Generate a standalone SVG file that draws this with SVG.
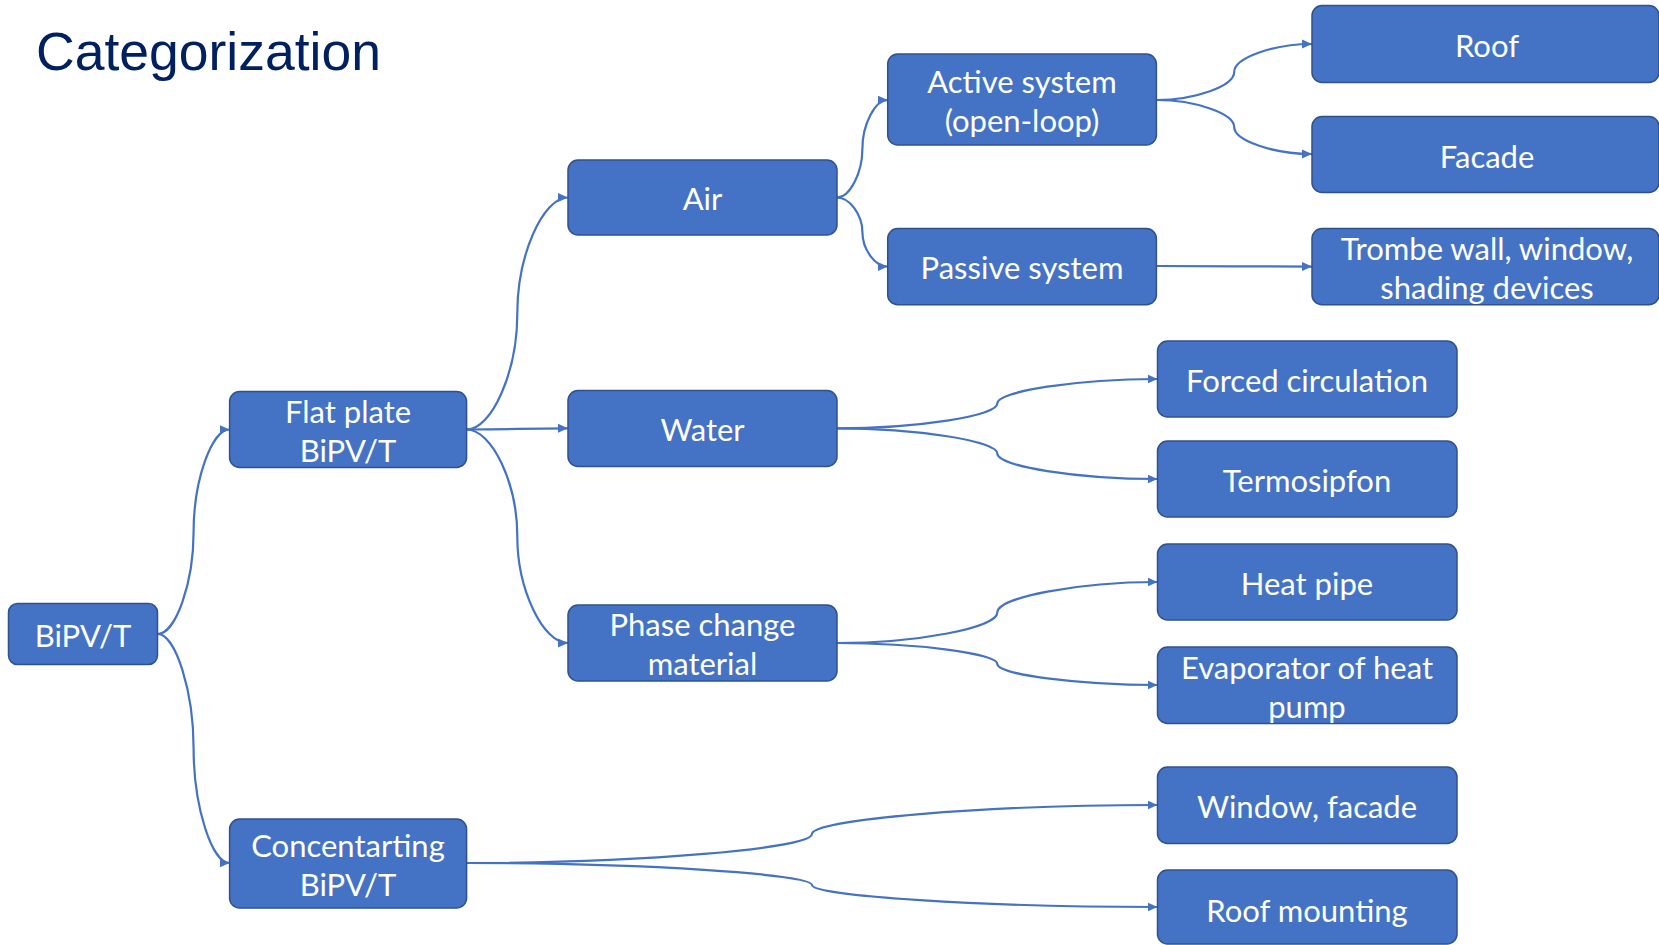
<svg xmlns="http://www.w3.org/2000/svg" width="1659" height="945" viewBox="0 0 1659 945">
<style>
.box{fill:#4472C4;stroke:#2F528F;stroke-width:1.5}
.lbl{fill:#FFFFFF;font-family:Lato,"Liberation Sans",sans-serif;font-size:31px;text-anchor:middle}
.con{fill:none;stroke:#4472C4;stroke-width:2.2;marker-end:url(#ah)}
.title{fill:#002060;font-family:"Liberation Sans",Arial,sans-serif;font-size:53.5px}
</style>
<defs>
<marker id="ah" markerUnits="userSpaceOnUse" markerWidth="10" markerHeight="10" viewBox="0 0 10 10" refX="10" refY="5" orient="auto">
<path d="M0,0.5 L10,5 L0,9.5 z" fill="#4472C4"/>
</marker>
</defs>
<rect width="1659" height="945" fill="#FFFFFF"/>
<text class="title" x="36" y="70">Categorization</text>

<g id="connectors">
<path class="con" d="M157.6,634 C175.6,634 193.6,582.9 193.6,531.8 C193.6,480.6 211.6,429.5 229.6,429.5"/>
<path class="con" d="M157.6,634 C175.6,634 193.6,691.3 193.6,748.5 C193.6,805.8 211.6,863 229.6,863"/>
<path class="con" d="M466.6,429.5 C492,429.5 517.3,371.5 517.3,313.5 C517.3,255.5 542.7,197.5 568,197.5"/>
<path class="con" d="M466.6,429.5 C492,429.5 517.3,428.9 517.3,428.9 C517.3,428.9 542.7,428.3 568,428.3"/>
<path class="con" d="M466.6,429.5 C492,429.5 517.3,483.4 517.3,536.3 C517.3,589.1 542.7,643 568,643"/>
<path class="con" d="M837,197.5 C849.7,197.5 862.4,173.1 862.4,148.8 C862.4,124.4 875,100 887.7,100"/>
<path class="con" d="M837,197.5 C849.7,197.5 862.4,214.8 862.4,232 C862.4,249.3 875,266.6 887.7,266.6"/>
<path class="con" d="M1156.4,100 C1195.3,100 1234.2,86 1234.2,72 C1234.2,58 1273.1,44 1312,44"/>
<path class="con" d="M1156.4,100 C1195.3,100 1234.2,113.5 1234.2,127 C1234.2,140.5 1273.1,154 1312,154"/>
<path class="con" d="M1156.4,266 C1195,266 1234.2,266.3 1234.2,266.3 C1234.2,266.3 1273.1,266.6 1312,266.6"/>
<path class="con" d="M837,428.3 C917.1,428.3 997.3,416 997.3,403.6 C997.3,391.3 1077.4,379 1157.5,379"/>
<path class="con" d="M837,428.3 C917.1,428.3 997.3,441 997.3,453.6 C997.3,466.3 1077.4,479 1157.5,479"/>
<path class="con" d="M837,643 C917.1,643 997.3,627.8 997.3,612.5 C997.3,597.3 1077.4,582 1157.5,582"/>
<path class="con" d="M837,643 C917.1,643 997.3,653.5 997.3,664 C997.3,674.5 1077.4,685 1157.5,685"/>
<path class="con" d="M466.6,863 C639.3,863 812,848.5 812,834 C812,819.5 984.8,805 1157.5,805"/>
<path class="con" d="M466.6,863 C639.3,863 812,874 812,885 C812,896 984.8,907 1157.5,907"/>
</g>

<g id="n-bipvt"><rect class="box" x="8.5" y="603.5" width="149" height="61" rx="9"/><text class="lbl" x="83" y="646.5">BiPV/T</text></g>
<g id="n-flat"><rect class="box" x="229.6" y="391.5" width="237" height="76" rx="10"/><text class="lbl" x="348" y="422.5">Flat plate</text><text class="lbl" x="348" y="461.5">BiPV/T</text></g>
<g id="n-conc"><rect class="box" x="229.6" y="819" width="237" height="89" rx="10"/><text class="lbl" x="348" y="856.5">Concentarting</text><text class="lbl" x="348" y="895.5">BiPV/T</text></g>
<g id="n-air"><rect class="box" x="568" y="160" width="269" height="75" rx="10"/><text class="lbl" x="702.5" y="209.5">Air</text></g>
<g id="n-water"><rect class="box" x="568" y="390.5" width="269" height="76" rx="10"/><text class="lbl" x="702.5" y="440.5">Water</text></g>
<g id="n-pcm"><rect class="box" x="568" y="605" width="269" height="76" rx="10"/><text class="lbl" x="702.5" y="635.5">Phase change</text><text class="lbl" x="702.5" y="674.5">material</text></g>
<g id="n-active"><rect class="box" x="887.7" y="54" width="268.7" height="91" rx="10"/><text class="lbl" x="1022" y="92.5">Active system</text><text class="lbl" x="1022" y="131.5">(open-loop)</text></g>
<g id="n-passive"><rect class="box" x="887.7" y="228.5" width="268.7" height="76.2" rx="10"/><text class="lbl" x="1022" y="278.5">Passive system</text></g>
<g id="n-roof"><rect class="box" x="1312" y="5.5" width="347" height="77" rx="10"/><text class="lbl" x="1487" y="56.5">Roof</text></g>
<g id="n-facade"><rect class="box" x="1312" y="116.5" width="347" height="76" rx="10"/><text class="lbl" x="1487" y="167.5">Facade</text></g>
<g id="n-trombe"><rect class="box" x="1312" y="228.5" width="347" height="76.2" rx="10"/><text class="lbl" x="1487" y="259.5">Trombe wall, window,</text><text class="lbl" x="1487" y="298.5">shading devices</text></g>
<g id="n-forced"><rect class="box" x="1157.5" y="341" width="299.5" height="76" rx="10"/><text class="lbl" x="1307" y="391.5">Forced circulation</text></g>
<g id="n-termo"><rect class="box" x="1157.5" y="441" width="299.5" height="76" rx="10"/><text class="lbl" x="1307" y="491.5">Termosipfon</text></g>
<g id="n-heatpipe"><rect class="box" x="1157.5" y="544" width="299.5" height="76" rx="10"/><text class="lbl" x="1307" y="594.5">Heat pipe</text></g>
<g id="n-evap"><rect class="box" x="1157.5" y="647" width="299.5" height="76.5" rx="10"/><text class="lbl" x="1307" y="678.5">Evaporator of heat</text><text class="lbl" x="1307" y="717.5">pump</text></g>
<g id="n-window"><rect class="box" x="1157.5" y="767" width="299.5" height="76.5" rx="10"/><text class="lbl" x="1307" y="817.5">Window, facade</text></g>
<g id="n-roofm"><rect class="box" x="1157.5" y="870" width="299.5" height="74" rx="10"/><text class="lbl" x="1307" y="921.5">Roof mounting</text></g>
</svg>
